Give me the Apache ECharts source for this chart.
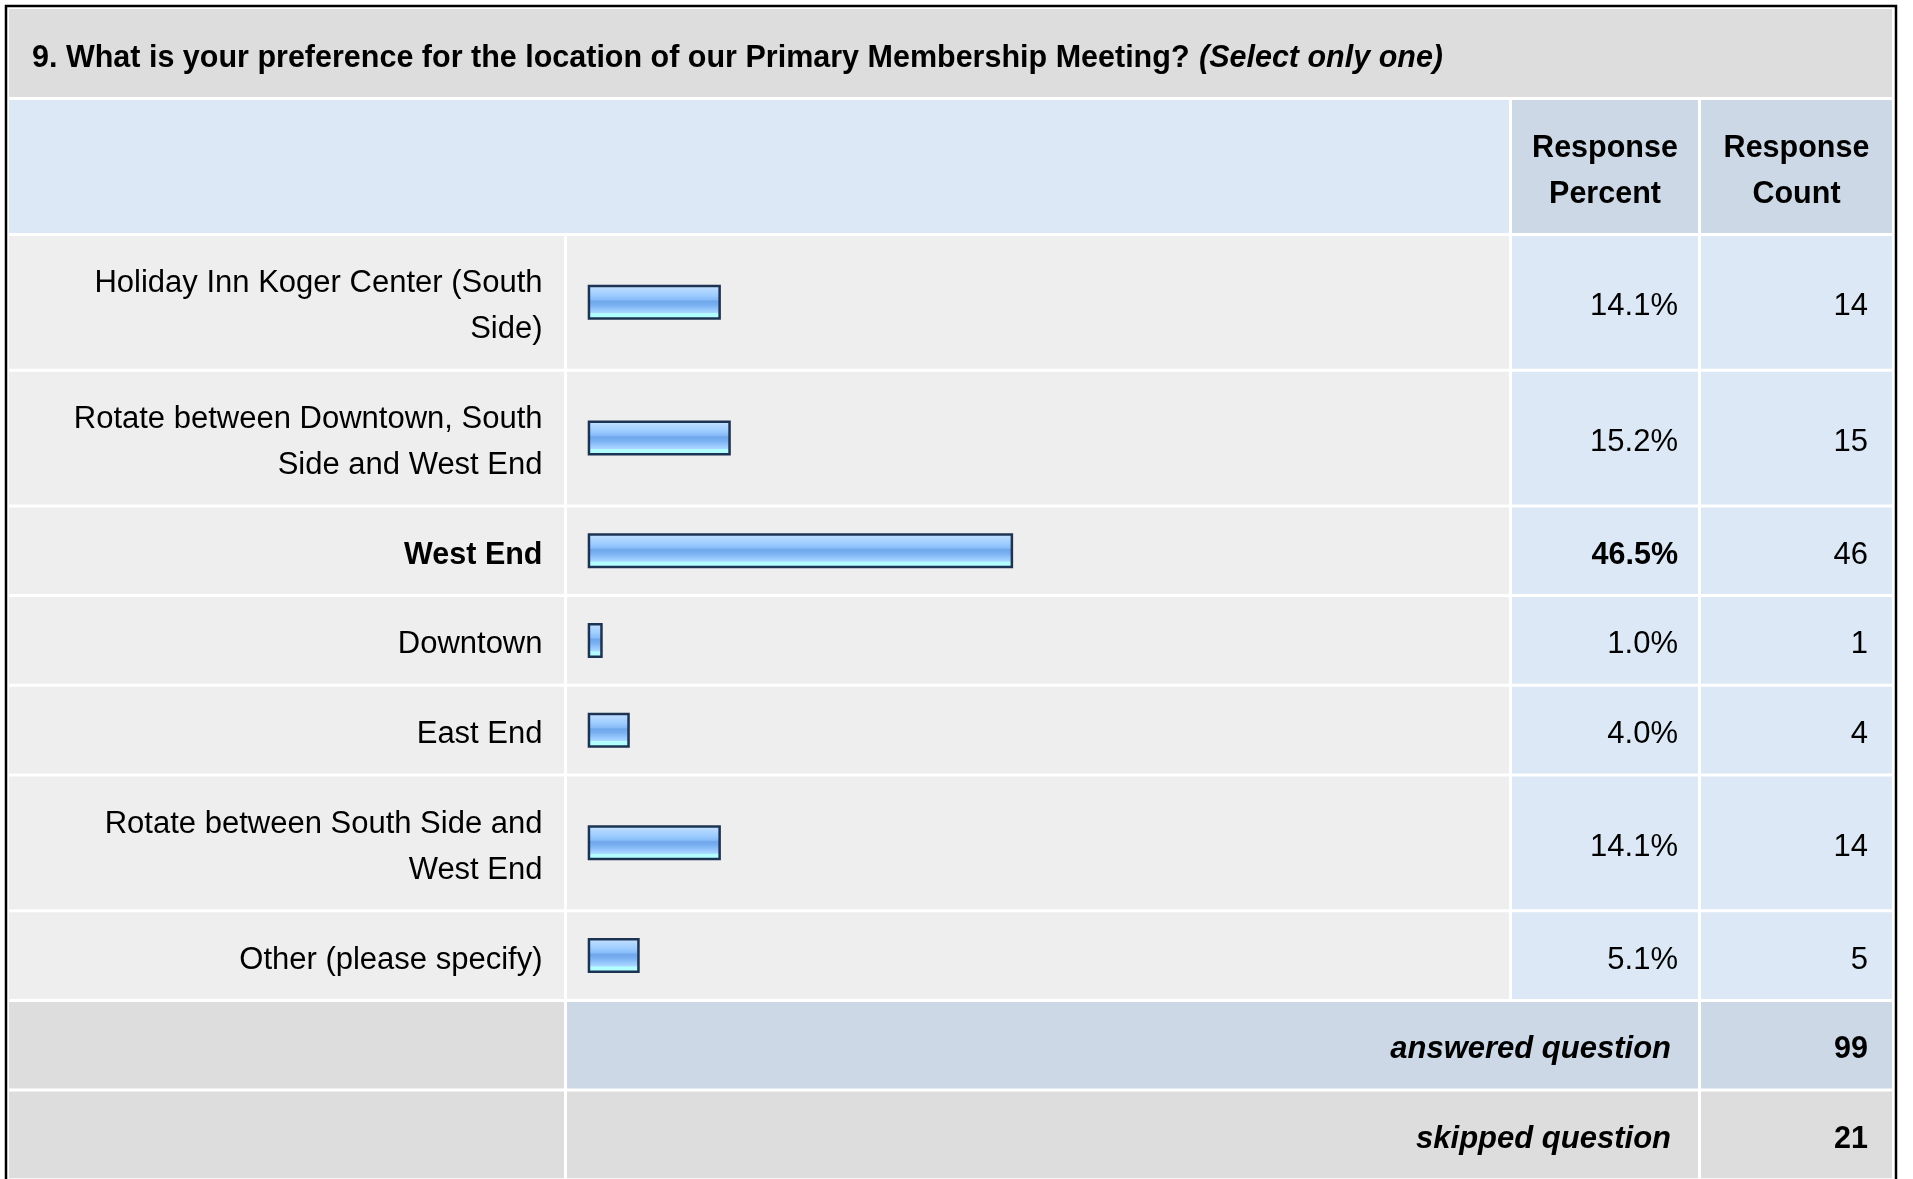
<!DOCTYPE html>
<html>
<head>
<meta charset="utf-8">
<title>Meeting location preference</title>
<script src="https://cdn.jsdelivr.net/npm/echarts@6/dist/echarts.min.js"></script>
<style>
  html, body { margin: 0; padding: 0; background: #fff; }
  #chart { width: 1913px; height: 1179px; }
</style>
</head>
<body>
<div id="chart"></div>
<script>
const questionTitle = '9. What is your preference for the location of our Primary Membership Meeting?';
const questionNote = '(Select only one)';
const columnHeaders = ['Response\nPercent', 'Response\nCount'];

const categories = [
  'Holiday Inn Koger Center (South\nSide)',
  'Rotate between Downtown, South\nSide and West End',
  'West End',
  'Downtown',
  'East End',
  'Rotate between South Side and\nWest End',
  'Other (please specify)'
];
const percents = [14.1, 15.2, 46.5, 1.0, 4.0, 14.1, 5.1];
const counts = [14, 15, 46, 1, 4, 14, 5];

const summaryLabels = ['answered question', 'skipped question'];
const summaryCounts = [99, 21];

const FONT = '"Liberation Sans", Arial, Helvetica, sans-serif';
const FS = 31;       // regular text
const FS_BOLD = 30.5;
const LH = 46;
const ROW_PAD = 40.7;
const GAP = 3;
const TEXT_DY = 4.5; // text sits a little below the row middle

// table columns (left, right)
const colLabel = [9, 564];
const colBar = [567, 1509];
const colPct = [1512, 1698];
const colCnt = [1701, 1892];

// bar area: value 0 at BAR_LEFT, 100% spans BAR_SPAN
const BAR_LEFT = 590.7;
const BAR_SPAN = 902;
const BAR_H = 35;
const BAR_FRAME = 3;   // border drawn around the bar image
const BAR_STROKE = 2.5;
const LABEL_RIGHT = 542.5;

const C_TITLE = '#dddddd';
const C_ROW = '#eeeeee';
const C_LIGHT = '#dce8f5';
const C_DARK = '#ccd8e6';

const barGradient = new echarts.graphic.LinearGradient(0, 0, 0, 1, [
  { offset: 0, color: '#d2e8ff' },
  { offset: 0.12, color: '#b6d9ff' },
  { offset: 0.3, color: '#9dccff' },
  { offset: 0.42, color: '#88bdf9' },
  { offset: 0.47, color: '#6fa7eb' },
  { offset: 0.58, color: '#79b1f2' },
  { offset: 0.72, color: '#99c9fd' },
  { offset: 0.8, color: '#a9d7ff' },
  { offset: 0.82, color: '#b2feff' },
  { offset: 1, color: '#b2feff' }
]);

const chart = echarts.init(document.getElementById('chart'));

const graphic = [];
const grid = [], xAxis = [], yAxis = [], series = [];

function rect(cols, y0, y1, fill) {
  graphic.push({
    type: 'rect', z: -10, silent: true,
    shape: { x: cols[0], y: y0, width: cols[1] - cols[0], height: y1 - y0 },
    style: { fill: fill }
  });
}

function text(str, x, y, align, bold, italic) {
  graphic.push({
    type: 'text', z: 10, silent: true, x: x, y: y,
    style: {
      text: str, fill: '#000',
      fontFamily: FONT, fontSize: bold && !italic ? FS_BOLD : FS, lineHeight: LH,
      fontWeight: bold ? 'bold' : 'normal', fontStyle: italic ? 'italic' : 'normal',
      textAlign: align, textVerticalAlign: 'middle'
    }
  });
}

// bar with its frame around the value extent
function renderBar(params, api) {
  const start = api.coord([0, api.value(1)]);
  const end = api.coord([api.value(0), api.value(1)]);
  const half = BAR_STROKE / 2;
  return {
    type: 'rect',
    shape: {
      x: start[0] - BAR_FRAME + half,
      y: start[1] - BAR_H / 2 + half,
      width: end[0] - start[0] + 2 * BAR_FRAME - BAR_STROKE,
      height: BAR_H - BAR_STROKE
    },
    style: { fill: barGradient, stroke: '#1c3353', lineWidth: BAR_STROKE }
  };
}

// title
rect([colLabel[0], colCnt[1]], 9, 97, C_TITLE);
graphic.push({
  type: 'text', z: 10, silent: true, x: 32, y: 54 + TEXT_DY,
  style: {
    text: '{b|' + questionTitle + '\u00a0}{bi|' + questionNote + '}',
    textVerticalAlign: 'middle',
    rich: {
      b: { fontFamily: FONT, fontSize: FS_BOLD, fontWeight: 'bold', fill: '#000' },
      bi: { fontFamily: FONT, fontSize: FS_BOLD, fontWeight: 'bold', fontStyle: 'italic', fill: '#000', padding: [0, 0, 0, 1] }
    }
  }
});

// header
rect([colLabel[0], colBar[1]], 100, 233, C_LIGHT);
rect(colPct, 100, 233, C_DARK);
rect(colCnt, 100, 233, C_DARK);
text(columnHeaders[0], (colPct[0] + colPct[1]) / 2, 167 + TEXT_DY, 'center', true);
text(columnHeaders[1], (colCnt[0] + colCnt[1]) / 2, 167 + TEXT_DY, 'center', true);

// answer rows, one small grid per row
const maxPct = Math.max(...percents);
let y = 236;
categories.forEach((cat, i) => {
  const lines = cat.split('\n').length;
  const h = ROW_PAD + LH * lines;
  const mid = y + h / 2;
  const top = percents[i] === maxPct;

  rect(colLabel, y, y + h, C_ROW);
  rect(colBar, y, y + h, C_ROW);
  rect(colPct, y, y + h, C_LIGHT);
  rect(colCnt, y, y + h, C_LIGHT);

  grid.push({
    left: BAR_LEFT, width: BAR_SPAN, top: y, height: h,
    containLabel: false, outerBoundsMode: 'none'
  });
  xAxis.push({ type: 'value', gridIndex: i, min: 0, max: 100, show: false });
  yAxis.push({
    type: 'category', gridIndex: i, data: [cat],
    axisLine: { show: false }, axisTick: { show: false }, splitLine: { show: false },
    axisLabel: {
      margin: BAR_LEFT - LABEL_RIGHT, align: 'right',
      formatter: v => v.split('\n').map(l => '{' + (top ? 'b' : 'n') + '|' + l + '}').join('\n'),
      rich: {
        n: { fontFamily: FONT, fontSize: FS, lineHeight: LH, color: '#000', padding: [TEXT_DY * 2, 0, 0, 0] },
        b: { fontFamily: FONT, fontSize: FS_BOLD, fontWeight: 'bold', lineHeight: LH, color: '#000', padding: [TEXT_DY * 2, 0, 0, 0] }
      }
    }
  });
  series.push({
    type: 'custom', xAxisIndex: i, yAxisIndex: i, silent: true,
    data: [[percents[i], 0]], encode: { x: 0, y: 1 },
    renderItem: renderBar
  });

  text(percents[i].toFixed(1) + '%', 1678, mid + TEXT_DY, 'right', top);
  text(String(counts[i]), 1868, mid + TEXT_DY, 'right');

  y += h + GAP;
});

// summary rows
summaryLabels.forEach((lab, j) => {
  const h = ROW_PAD + LH;
  const mid = y + h / 2;
  const fill = j === 0 ? C_DARK : C_TITLE;
  rect(colLabel, y, y + h, C_TITLE);
  rect([colBar[0], colPct[1]], y, y + h, fill);
  rect(colCnt, y, y + h, fill);
  text(lab, 1671, mid + TEXT_DY, 'right', true, true);
  text(String(summaryCounts[j]), 1868, mid + TEXT_DY, 'right', true);
  y += h + GAP;
});

// outer frame
graphic.push({
  type: 'rect', z: 20, silent: true,
  shape: { x: 6, y: 6, width: 1890, height: 1300 },
  style: { fill: 'none', stroke: '#000', lineWidth: 2.5 }
});

chart.setOption({
  animation: false,
  backgroundColor: '#fff',
  graphic: graphic,
  grid: grid,
  xAxis: xAxis,
  yAxis: yAxis,
  series: series
});

window.addEventListener('resize', () => chart.resize());
</script>
</body>
</html>
